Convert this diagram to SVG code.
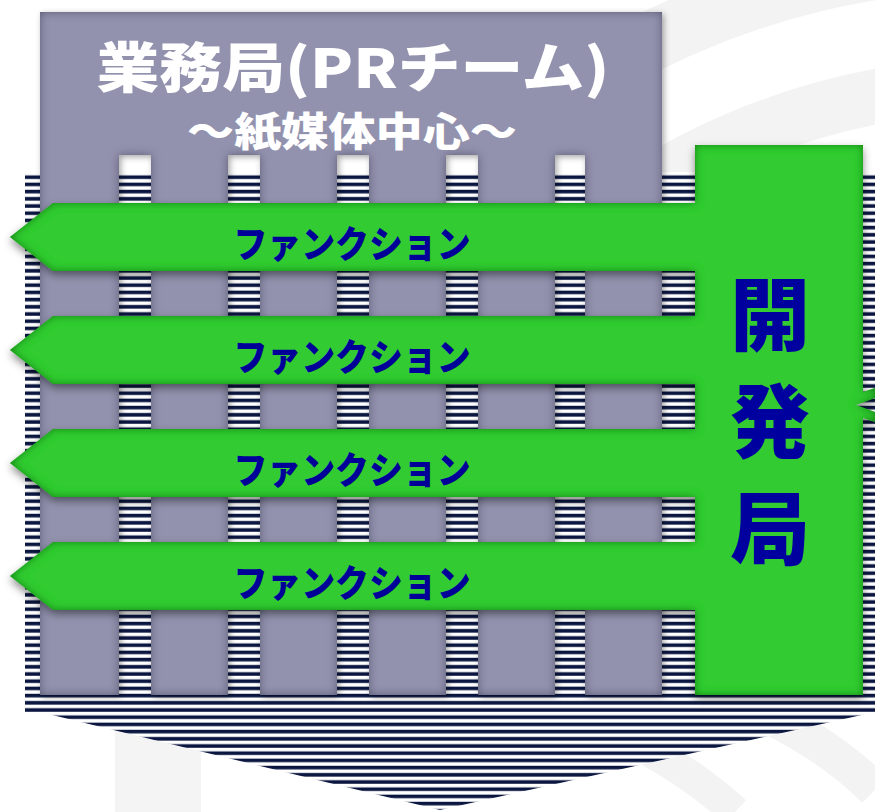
<svg xmlns="http://www.w3.org/2000/svg" width="875" height="812" viewBox="0 0 875 812">
<defs>
<style>
.ttl{font-family:"Noto Sans CJK JP","Noto Sans",sans-serif;font-weight:900;fill:#ffffff;text-anchor:middle}
.fn{font-family:"Noto Sans CJK JP","Noto Sans",sans-serif;font-weight:900;fill:#000099;font-size:37px;text-anchor:middle}
.dev{font-family:"Noto Sans CJK JP","Noto Sans",sans-serif;font-weight:900;fill:#00009e;font-size:80px;text-anchor:middle}
.wm{fill:none;stroke:#f3f3f3}
</style>
<pattern id="stripes" patternUnits="userSpaceOnUse" x="0" y="172" width="10" height="7.2">
<rect width="10" height="7.2" fill="#ffffff"/>
<rect y="3.4" width="10" height="3.6" fill="#0a1640"/>
</pattern>
<clipPath id="topclip"><rect x="600" y="0" width="275" height="175"/></clipPath>
<filter id="gshade" x="-5%" y="-5%" width="110%" height="112%">
<feGaussianBlur in="SourceAlpha" stdDeviation="4" result="b"/>
<feOffset in="b" dx="0" dy="4" result="ob"/>
<feFlood flood-color="#000000" flood-opacity="0.45"/>
<feComposite in2="ob" operator="in" result="drop"/>
<feFlood flood-color="#0e650e" flood-opacity="0.9" result="ic"/>
<feComposite in="ic" in2="SourceAlpha" operator="out" result="inv"/>
<feGaussianBlur in="inv" stdDeviation="4" result="invb"/>
<feComposite in="invb" in2="SourceAlpha" operator="in" result="inner"/>
<feMerge><feMergeNode in="drop"/><feMergeNode in="SourceGraphic"/><feMergeNode in="inner"/></feMerge>
</filter>
<filter id="pshade" x="-5%" y="-5%" width="110%" height="110%">
<feGaussianBlur in="SourceAlpha" stdDeviation="3" result="b"/>
<feOffset in="b" dx="2" dy="2" result="ob"/>
<feFlood flood-color="#000000" flood-opacity="0.35"/>
<feComposite in2="ob" operator="in" result="drop"/>
<feFlood flood-color="#44445e" flood-opacity="0.9" result="ic"/>
<feComposite in="ic" in2="SourceAlpha" operator="out" result="inv"/>
<feGaussianBlur in="inv" stdDeviation="5" result="invb"/>
<feComposite in="invb" in2="SourceAlpha" operator="in" result="inner"/>
<feMerge><feMergeNode in="drop"/><feMergeNode in="SourceGraphic"/><feMergeNode in="inner"/></feMerge>
</filter>
</defs>

<rect width="875" height="812" fill="#ffffff"/>

<g id="watermark">
<g clip-path="url(#topclip)">
<circle class="wm" cx="1000" cy="750" r="790" stroke-width="60"/>
<circle class="wm" cx="1000" cy="750" r="665" stroke-width="55"/>
<circle class="wm" cx="1000" cy="750" r="545" stroke-width="50"/>
</g>
<rect x="115" y="730" width="86" height="82" fill="#f4f4f4"/>
<path class="wm" d="M620,735 Q690,770 735,812" stroke-width="32"/>
<path class="wm" d="M760,712 Q830,745 875,790" stroke-width="36"/>
</g>

<g id="background-stripes">
<path d="M25,172 H875 V712 L440,810 L40,712 H25 Z" fill="url(#stripes)"/>
</g>

<g id="gyomu">
<path filter="url(#pshade)" fill="#9292ae" fill-rule="evenodd" d="M40,12 H662 V695 H40 Z M119,155 H151 V695 H119 Z M228,155 H260 V695 H228 Z M337,155 H369 V695 H337 Z M446,155 H478 V695 H446 Z M555,155 H585 V695 H555 Z"/>
<text class="ttl" x="353" y="88" font-size="54" textLength="513" lengthAdjust="spacingAndGlyphs">業務局(PRチーム)</text>
<text class="ttl" x="352" y="146" font-size="40" textLength="330" lengthAdjust="spacingAndGlyphs">〜紙媒体中心〜</text>
</g>

<g id="connectors">
<path filter="url(#gshade)" fill="#33cc33" d="M695,145 H863 V392 L875,388 V398 L856,405 L875,412 V422 L863,418 V695 H695 V610 H53 L10,576 L53,542 H695 V497 H53 L10,463 L53,429 H695 V384 H53 L10,350 L53,316 H695 V271 H53 L10,237 L53,203 H695 Z"/>
</g>

<g id="function-1"><text class="fn" x="352" y="258" textLength="237" lengthAdjust="spacingAndGlyphs">ファンクション</text></g>
<g id="function-2"><text class="fn" x="352" y="371" textLength="237" lengthAdjust="spacingAndGlyphs">ファンクション</text></g>
<g id="function-3"><text class="fn" x="352" y="484" textLength="237" lengthAdjust="spacingAndGlyphs">ファンクション</text></g>
<g id="function-4"><text class="fn" x="352" y="597" textLength="237" lengthAdjust="spacingAndGlyphs">ファンクション</text></g>

<g id="kaihatsu">
<text class="dev" x="770" y="344">開</text>
<text class="dev" x="770" y="451">発</text>
<text class="dev" x="770" y="558">局</text>
</g>
</svg>
